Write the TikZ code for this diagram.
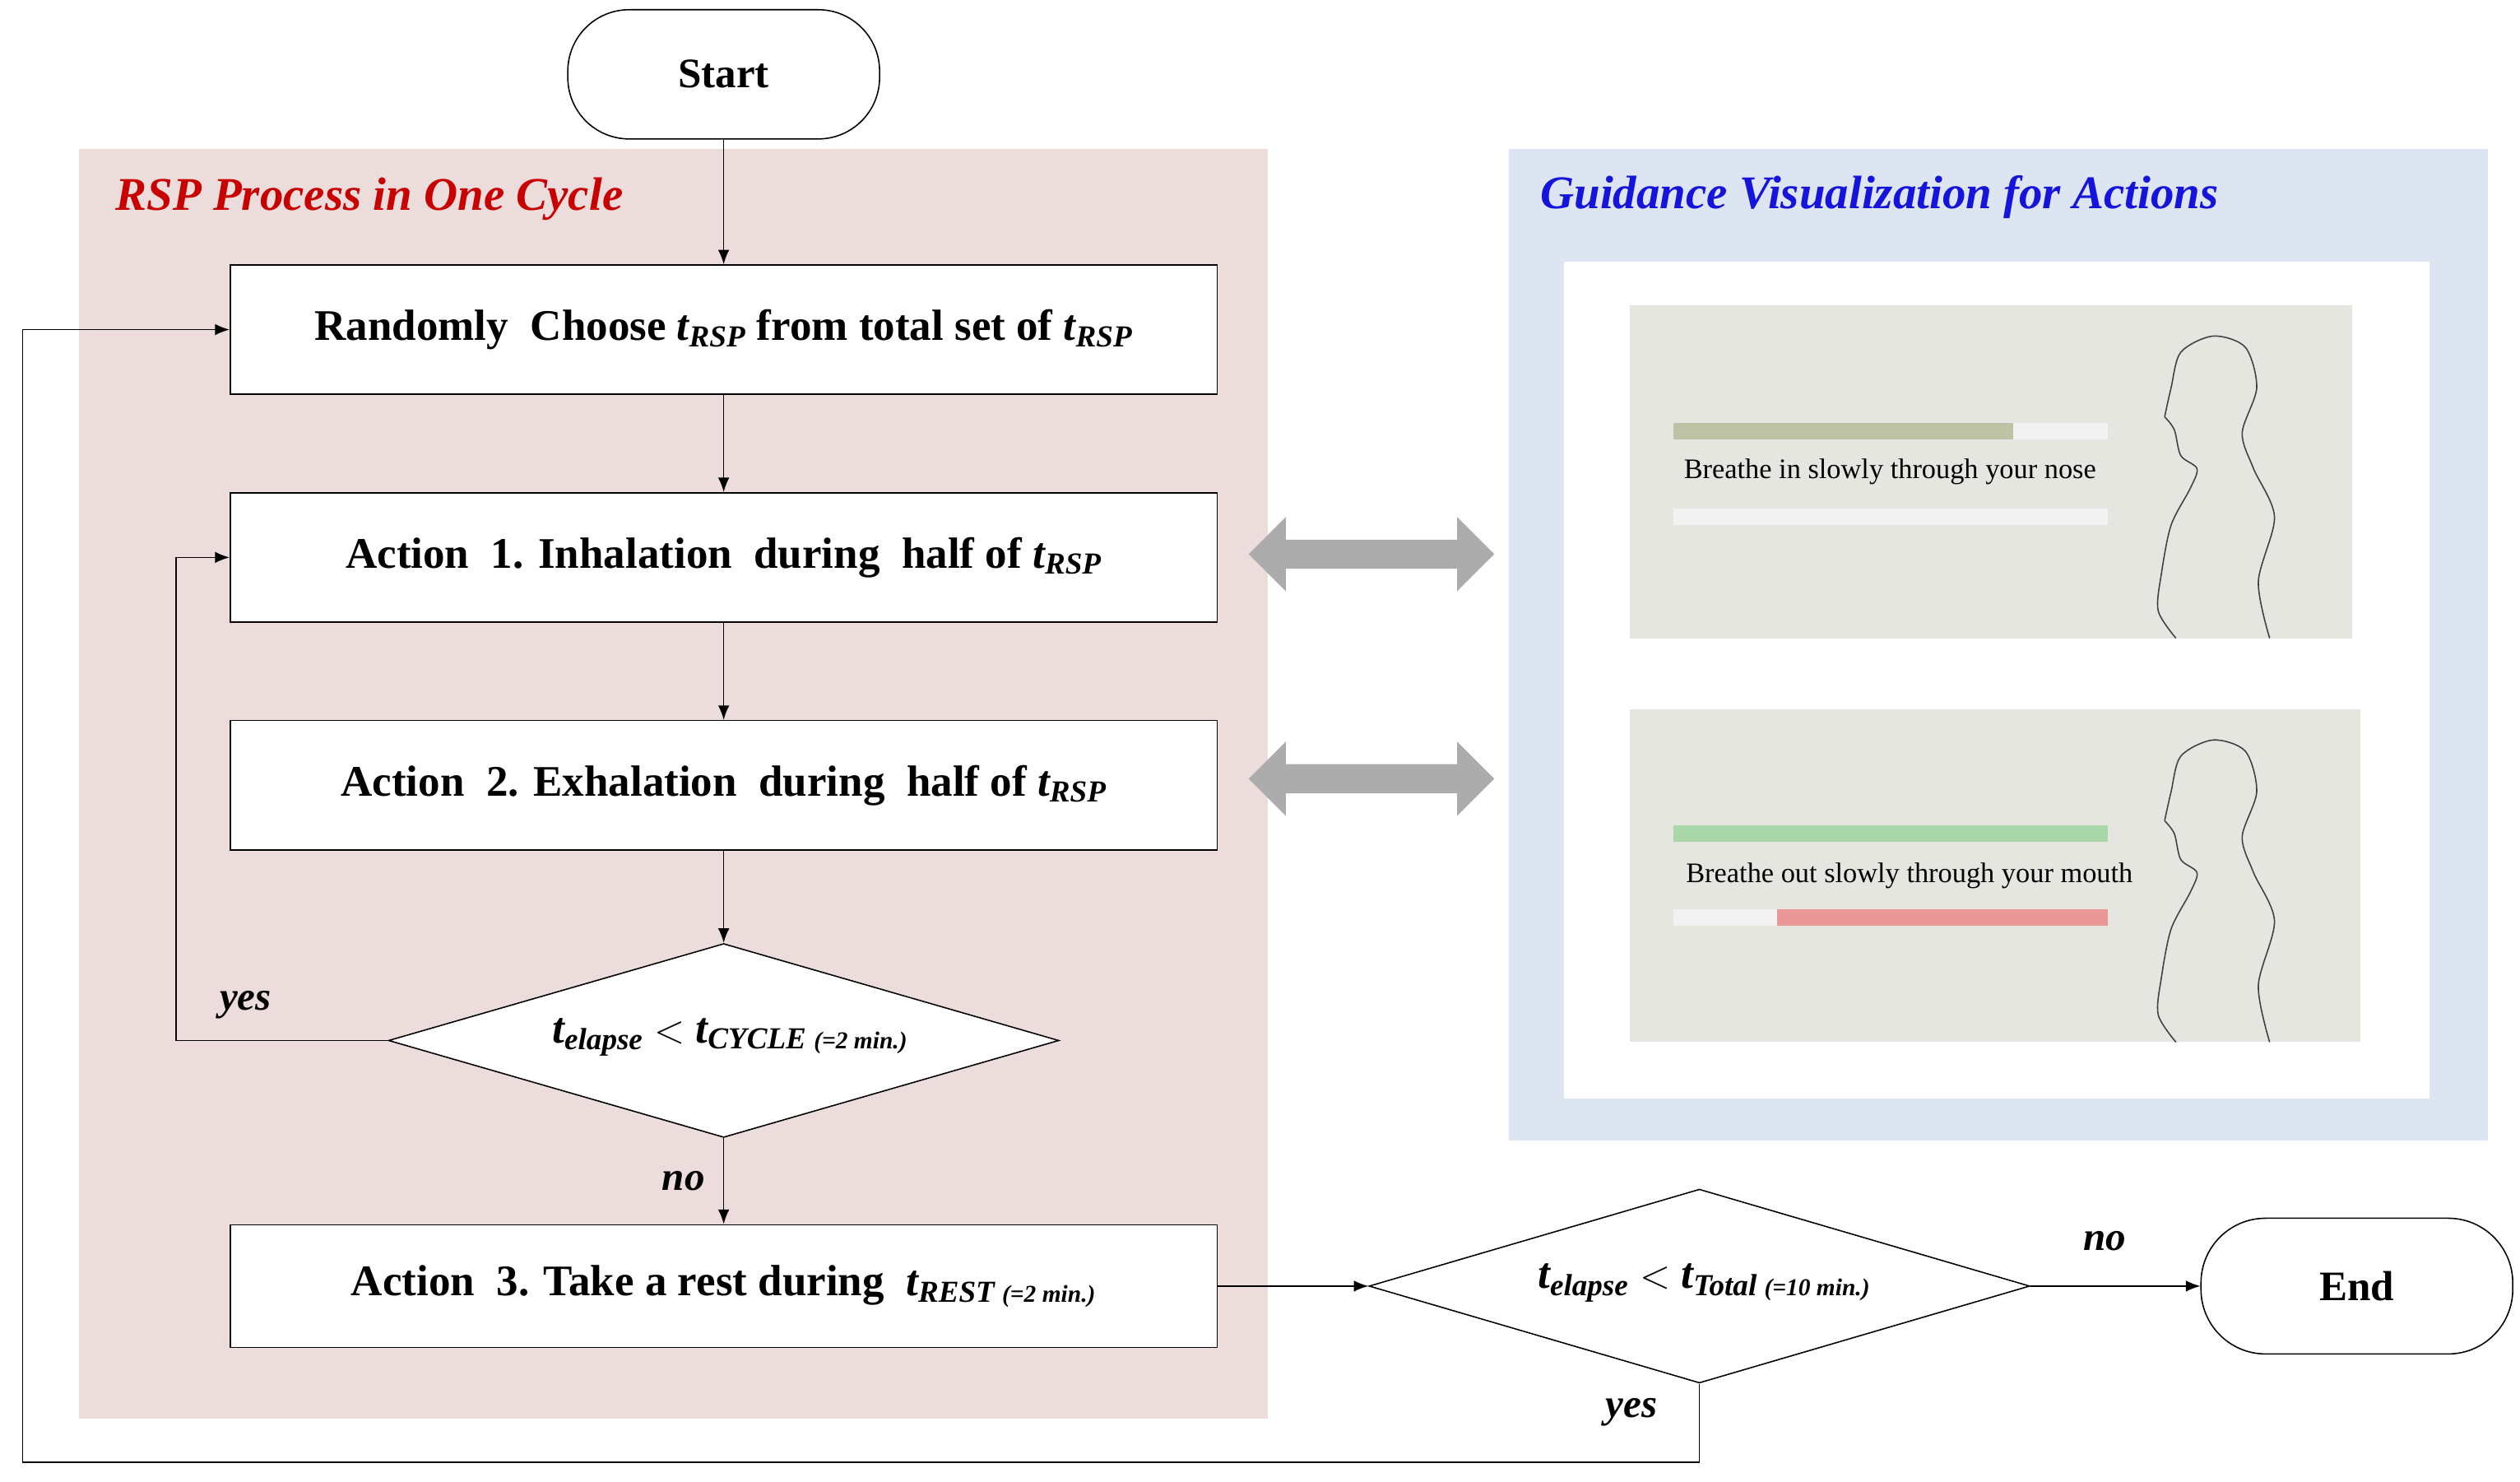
\documentclass[tikz,border=0pt]{standalone}
\usepackage{fontspec}
\setmainfont{Liberation Serif}
\usetikzlibrary{shapes.geometric,arrows.meta}
\newcommand{\tv}[1]{{\itshape t\textsubscript{#1}}}
\begin{document}
\begin{tikzpicture}[x=1pt,y=-1pt,
 box/.style={draw,thick,fill=white,minimum width=611pt,minimum height=80pt,font=\bfseries\fontsize{27}{30}\selectfont},
 dia/.style={draw,thick,fill=white,diamond,aspect=3.45,inner sep=0pt},
 term/.style={draw,thick,rounded corners=38pt,minimum width=193pt,minimum height=80pt,font=\bfseries\fontsize{26}{30}\selectfont},
 arr/.style={-{Latex[length=9pt,width=7pt]},thick},
 lab/.style={font=\bfseries\itshape\fontsize{25}{30}\selectfont},
 body/.style={thick,black!75,smooth}]
\useasboundingbox (0,0) rectangle (1560,917);
\fill[fill={rgb,255:red,236;green,221;blue,220}] (49,92) rectangle (785,878);
\fill[fill={rgb,255:red,220;green,229;blue,241}] (934,92) rectangle (1540,706);
\fill[white] (968,162) rectangle (1504,680);
\node[anchor=west,lab,text={rgb,255:red,200;green,0;blue,0},font=\bfseries\itshape\fontsize{29}{32}\selectfont] (t1) at (68,123) {RSP Process in One Cycle};
\node[anchor=west,lab,text={rgb,255:red,20;green,20;blue,220},font=\bfseries\itshape\fontsize{29}{32}\selectfont] (t2) at (950,122) {Guidance Visualization for Actions};
% images
\fill[fill={rgb,255:red,230;green,230;blue,225}] (1009,189) rectangle (1456,395);
\fill[fill={rgb,255:red,230;green,230;blue,225}] (1009,439) rectangle (1461,645);
\fill[gray!10] (1036,262) rectangle (1305,272);
\fill[fill={rgb,255:red,190;green,195;blue,165}] (1036,262) rectangle (1246,272);
\fill[gray!10] (1036,315) rectangle (1305,325);
\fill[fill={rgb,255:red,170;green,215;blue,170}] (1036,511) rectangle (1305,521);
\fill[gray!10] (1036,563) rectangle (1100,573);
\fill[fill={rgb,255:red,235;green,150;blue,150}] (1100,563) rectangle (1305,573);
\node[font=\fontsize{17.5}{20}\selectfont] (s1) at (1170,292) {Breathe in slowly through your nose};
\node[font=\fontsize{17.5}{20}\selectfont] (s2) at (1182,542) {Breathe out slowly through your mouth};
\foreach \dy in {0,250}{
\draw[body] plot coordinates {(1405,395+\dy) (1398,360+\dy) (1408,320+\dy) (1395,290+\dy) (1388,268+\dy) (1397,240+\dy) (1390,215+\dy) (1370,208+\dy) (1350,218+\dy) (1344,240+\dy) (1340,258+\dy)};
\draw[body] plot coordinates {(1340,258+\dy) (1346,266+\dy) (1350,282+\dy) (1360,290+\dy) (1356,302+\dy) (1344,325+\dy) (1338,355+\dy) (1336,378+\dy) (1347,395+\dy)};
}
% double arrows
\foreach \yy in {343,482}{
\fill[gray!65] (773,\yy) -- (796,\yy-23) -- (796,\yy-9) -- (902,\yy-9) -- (902,\yy-23) -- (925,\yy) -- (902,\yy+23) -- (902,\yy+9) -- (796,\yy+9) -- (796,\yy+23) -- cycle;
}
% flow
\node[term] (start) at (448,46) {Start};
\node[box] (b1) at (448,204) {Randomly\ \ Choose \tv{RSP} from total set of \tv{RSP}};
\node[box] (b2) at (448,345) {Action\ \ 1. Inhalation\ \ during\ \ half of \tv{RSP}};
\node[box] (b3) at (448,486) {Action\ \ 2. Exhalation\ \ during\ \ half of \tv{RSP}};
\node[dia,minimum width=415pt,minimum height=120pt] (d1) at (448,644) {};
\node[font=\bfseries\fontsize{27}{30}\selectfont] (d1t) at (452,642) {\tv{elapse} $<$ {\itshape t}\textsubscript{\itshape CYCLE {\fontsize{15}{16}\selectfont(=2 min.)}}};
\node[box,minimum height=76pt] (b4) at (448,796) {Action\ \ 3. Take a rest during\ \ {\itshape t}\textsubscript{\itshape REST {\fontsize{15}{16}\selectfont(=2 min.)}}};
\node[dia,minimum width=409pt,minimum height=120pt] (d2) at (1052,796) {};
\node[font=\bfseries\fontsize{27}{30}\selectfont] (d2t) at (1055,794) {\tv{elapse} $<$ {\itshape t}\textsubscript{\itshape Total {\fontsize{15}{16}\selectfont(=10 min.)}}};
\node[term,minimum height=84pt,rounded corners=40pt] (end) at (1459,796) {End};
\coordinate (c1) at (109,644); \coordinate (c2) at (109,345);
\coordinate (c3) at (1052,905); \coordinate (c4) at (14,905); \coordinate (c5) at (14,204);
\draw[arr] (start) -- (b1);
\draw[arr] (b1) -- (b2);
\draw[arr] (b2) -- (b3);
\draw[arr] (b3) -- (d1);
\draw[arr] (d1) -- node[lab,pos=0.5,left=8pt] {no} (b4);
\draw[arr] (d1.west) -- (c1) -- (c2) -- (b2.west);
\draw[arr] (b4) -- (d2);
\draw[arr] (d2) -- (end);
\draw[arr] (d2.south) -- (c3) -- (c4) -- (c5) -- (b1.west);
\node[lab] (y1) at (152,622) {yes};
\node[lab] (n2) at (1303,768) {no};
\node[lab] (y2) at (1010,874) {yes};
\end{tikzpicture}
\end{document}
